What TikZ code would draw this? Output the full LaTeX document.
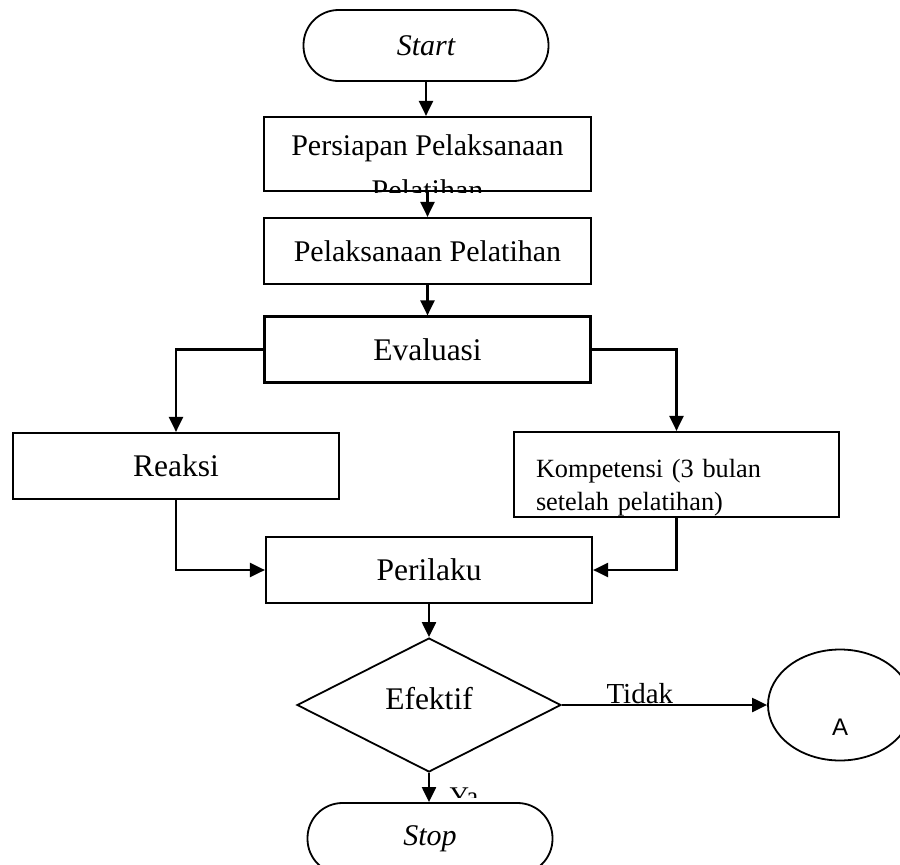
\documentclass[tikz,border=0pt]{standalone}
\usepackage{fontspec}
\setmainfont{Liberation Serif}
\newfontfamily\sansA{Liberation Sans}
\usetikzlibrary{arrows.meta,shapes.geometric}

\begin{document}
\begin{tikzpicture}[x=1pt,y=-1pt]
\tikzset{box/.style={draw,line width=2.2pt,inner sep=0pt,minimum width=326pt,minimum height=66pt},
 term/.style={draw,line width=1.8pt,rounded corners=35pt,inner sep=0pt,minimum width=245pt,minimum height=71pt,
  font=\fontsize{30}{36}\selectfont\itshape},
 flow/.style={line width=2.2pt,-{Triangle[length=15pt,width=14pt]}},
 big/.style={font=\fontsize{31.5}{38}\selectfont},
 mid/.style={font=\fontsize{30}{36}\selectfont}}
\useasboundingbox (0,0) rectangle (900,865);
% terminals and process boxes
\node[term] (start) at (426,45.5) {Start};
\node[box,minimum width=327pt,minimum height=74pt] (prep) at (427.5,154) {};
\node[mid,anchor=base] (prepA) at (427.5,155) {Persiapan Pelaksanaan};
\begin{scope}
\clip (prep.south west) rectangle (prep.north east);
\node[mid,anchor=base] (prepB) at (427.5,200) {Pelatihan};
\end{scope}
\node[box,mid,minimum width=327pt] (exec) at (427.5,251) {Pelaksanaan Pelatihan};
\node[box,big] (eval) at (427.5,349.5) {Evaluasi};
\node[box,big] (reaksi) at (176,466) {Reaksi};
\node[box,minimum width=325pt,minimum height=85pt,align=left,text width=281pt,inner xsep=22pt,
 text depth=13pt,font=\fontsize{26.3}{33}\selectfont] (komp) at (676.5,474.5) {Kompetensi (3 bulan\\setelah pelatihan)};
\node[box,big] (perilaku) at (429,570) {Perilaku};
% decision
\node[draw,diamond,line width=1.8pt,inner sep=0pt,minimum width=264pt,minimum height=134pt,
 text depth=14pt,big] (efektif) at (429,705) {Efektif};
\node[draw,ellipse,line width=1.8pt,minimum width=144pt,minimum height=111pt] (conn) at (840,705) {};
\node[anchor=base,font=\sansA\fontsize{24}{28}\selectfont] (connA) at (840,735) {A};
\node[term] (stop) at (430,838.5) {Stop};
% connectors
\draw[flow] (start.south) -- (start.south |- prep.north);
\draw[flow] (prep) -- (exec);
\draw[flow] (exec) -- (eval);
\draw[flow] (eval.west) -| (reaksi.north);
\draw[flow] (eval.east) -| (komp.north);
\draw[flow] (reaksi.south) |- (perilaku.west);
\draw[flow] (komp.south) |- (perilaku.east);
\draw[flow] (perilaku) -- (efektif);
\draw[flow] (efektif.east) -- (conn.west);
\draw[flow] (efektif.south) -- (efektif.south |- stop.north);
\node[anchor=base west,font=\fontsize{29}{34}\selectfont] (tidak) at (603,703) {Tidak};
\begin{scope}
\clip (440,770) rectangle (500,797);
\node[anchor=base west,font=\fontsize{27}{32}\selectfont] (ya) at (446,805) {Ya};
\end{scope}
\end{tikzpicture}
\end{document}
